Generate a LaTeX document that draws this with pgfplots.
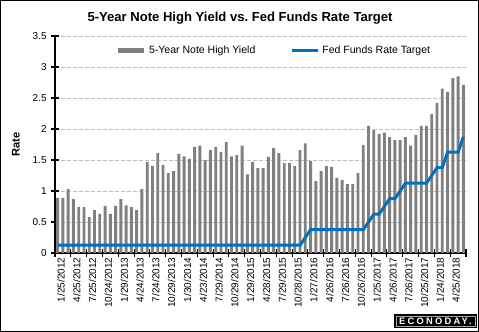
\documentclass[border=0pt]{standalone}
\usepackage{fontspec}
\setmainfont{Liberation Sans}
\newfontfamily\logofont[LetterSpace=24]{Liberation Sans}
\usepackage{pgfplots}
\pgfplotsset{compat=1.18}
\definecolor{barcol}{RGB}{128,128,128}
\definecolor{linecol}{RGB}{0,112,192}
\definecolor{gridcol}{RGB}{190,190,190}
\begin{document}
\begin{tikzpicture}
\draw[black, line width=0.75pt] (0.375pt,0.375pt) rectangle (358.875pt,248.625pt);
\begin{axis}[
  scale only axis,
  width=308.25pt, height=162.75pt,
  anchor=south west, at={(41.25pt,59.25pt)},
  xmin=-0.5, xmax=77.5, ymin=0, ymax=3.5,
  axis x line*=bottom, axis y line*=left,
  axis line style={black, line width=0.8pt, -},
  ytick={0,0.5,1,1.5,2,2.5,3,3.5},
  yticklabels={0,0.5,1,1.5,2,2.5,3,3.5},
  xtick={-0.5,2.5,...,77.5},
  xticklabels={},
  extra x ticks={0,3,...,75},
  extra x tick labels={1/25/2012,4/25/2012,7/25/2012,10/24/2012,1/29/2013,4/24/2013,7/24/2013,10/29/2013,1/30/2014,4/23/2014,7/29/2014,10/29/2014,1/29/2015,4/28/2015,7/29/2015,10/28/2015,1/27/2016,4/26/2016,7/26/2016,10/26/2016,1/25/2017,4/26/2017,7/26/2017,10/25/2017,1/24/2018,4/25/2018},
  extra x tick style={major tick length=0pt},
  tick style={black, line width=0.8pt},
  major tick length=5.5pt,
  tick align=center,
  xticklabel style={rotate=90, anchor=east, font=\fontsize{7.5}{9}\selectfont, yshift=-2.5pt},
  yticklabel style={font=\fontsize{7.5}{9}\selectfont},
  ymajorgrids,
  major grid style={gridcol, line width=0.6pt, dash pattern=on 3pt off 1.5pt},
  ylabel={Rate},
  ylabel style={font=\fontsize{8.3}{10}\selectfont\bfseries, at={(axis description cs:-0.095,0.5)}, anchor=center},
  legend style={at={(0.533,0.931)}, anchor=center, draw=none, fill=none, legend columns=2,
    font=\fontsize{7.9}{9.5}\selectfont,
    /tikz/every even column/.append style={column sep=24pt}},
  clip=false,
]
\addplot[ybar, bar width=0.55, fill=barcol, draw=none, area legend,
  legend image code/.code={\draw[line width=3.75pt, barcol] (0pt,0pt) -- (19.5pt,0pt);}]
coordinates {
(0,0.89)(1,0.89)(2,1.03)(3,0.87)(4,0.74)(5,0.74)(6,0.58)(7,0.69)(8,0.63)(9,0.76)
(10,0.63)(11,0.76)(12,0.87)(13,0.77)(14,0.74)(15,0.69)(16,1.03)(17,1.47)(18,1.40)(19,1.61)
(20,1.42)(21,1.29)(22,1.32)(23,1.60)(24,1.56)(25,1.52)(26,1.71)(27,1.73)(28,1.50)(29,1.66)
(30,1.71)(31,1.63)(32,1.79)(33,1.56)(34,1.58)(35,1.73)(36,1.27)(37,1.47)(38,1.37)(39,1.37)
(40,1.55)(41,1.69)(42,1.61)(43,1.45)(44,1.45)(45,1.40)(46,1.66)(47,1.77)(48,1.48)(49,1.16)
(50,1.32)(51,1.40)(52,1.39)(53,1.21)(54,1.18)(55,1.11)(56,1.11)(57,1.29)(58,1.74)(59,2.05)
(60,1.98)(61,1.92)(62,1.94)(63,1.87)(64,1.82)(65,1.82)(66,1.87)(67,1.73)(68,1.90)(69,2.05)
(70,2.05)(71,2.24)(72,2.42)(73,2.65)(74,2.60)(75,2.82)(76,2.85)(77,2.71)
};
\addlegendentry{5-Year Note High Yield}
\addplot[linecol, line width=2.25pt, mark=none,
  legend image code/.code={\draw[line width=2.25pt, linecol] (0pt,0pt) -- (20pt,0pt);}]
coordinates {
(0,0.125)(46,0.125)(47,0.25)(48,0.375)(58,0.375)(59,0.5)(60,0.625)(61,0.625)(62,0.75)
(63,0.875)(64,0.875)(65,1.0)(66,1.125)(70,1.125)(71,1.25)(72,1.375)(73,1.375)(74,1.625)
(76,1.625)(77,1.875)
};
\addlegendentry{Fed Funds Rate Target}
\end{axis}
\node[font=\fontsize{9.8}{12}\selectfont\bfseries] at (180pt,235.5pt) {5-Year Note High Yield vs.\ Fed Funds Rate Target};
\fill[black] (295.5pt,3pt) rectangle (357.75pt,13.5pt);
\draw[gray!70, line width=0.5pt] (297pt,4.5pt) rectangle (356.25pt,12pt);
\node[text=white, font=\fontsize{7}{7}\selectfont\logofont\bfseries, inner sep=0pt] at (326.6pt,8.25pt) {ECONODAY.};
\end{tikzpicture}
\end{document}
